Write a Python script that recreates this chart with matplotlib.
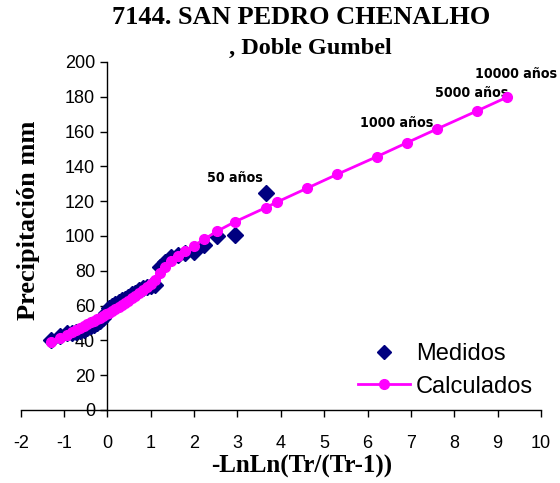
import matplotlib
matplotlib.use("Agg")
import matplotlib.pyplot as plt

# ---- data ----
title_line1 = "7144. SAN PEDRO CHENALHO"
title_line2 = ", Doble Gumbel"
x_label = "-LnLn(Tr/(Tr-1))"
y_label = "Precipitación mm"

medidos_x = [3.651, 2.944, 2.525, 2.224, 1.986, 1.789, 1.620, 1.472, 1.338, 1.216,
             1.104, 1.000, 0.903, 0.810, 0.723, 0.639, 0.558, 0.480, 0.404, 0.330,
             0.257, 0.186, 0.116, 0.046, -0.024, -0.094, -0.164, -0.236, -0.308, -0.383,
             -0.460, -0.541, -0.627, -0.720, -0.823, -0.942, -1.089, -1.298]
medidos_y = [124.5, 100.5, 100.0, 95.0, 91.0, 90.0, 89.0, 88.0, 85.0, 82.0,
             72.0, 71.0, 70.5, 70.0, 69.0, 67.5, 66.5, 65.0, 64.0, 63.0,
             62.0, 61.0, 60.0, 58.5, 56.0, 53.0, 51.0, 50.0, 49.0, 48.0,
             47.0, 46.0, 45.5, 45.0, 44.5, 44.0, 42.5, 40.5]

calc_x = [-1.298, -1.089, -0.942, -0.823, -0.720, -0.627, -0.541, -0.460, -0.383, -0.308,
          -0.236, -0.164, -0.094, -0.024, 0.046, 0.116, 0.186, 0.257, 0.330, 0.404,
          0.480, 0.558, 0.639, 0.723, 0.810, 0.903, 1.000, 1.104, 1.216, 1.338,
          1.472, 1.620, 1.789, 1.986, 2.224, 2.525, 2.944, 3.651,
          3.902, 4.600, 5.296, 6.214, 6.907, 7.600, 8.517, 9.210]
calc_y = [39.0, 41.5, 43.3, 44.8, 46.0, 47.2, 48.3, 49.3, 50.3, 51.2,
          52.1, 53.0, 54.0, 55.0, 56.0, 57.0, 58.0, 59.2, 60.4, 61.6,
          62.9, 64.2, 65.6, 67.1, 68.7, 70.5, 72.5, 75.0, 78.5, 82.3,
          85.8, 88.5, 91.3, 94.3, 98.0, 102.7, 108.2, 116.3,
          119.4, 127.4, 135.4, 145.6, 153.6, 161.5, 171.8, 179.7]

period_labels = ["50 años", "1000 años", "5000 años", "10000 años"]
period_label_x = [2.93, 6.67, 8.40, 9.42]
period_label_y = [133.3, 164.9, 182.2, 193.1]

x_ticks = list(range(-2, 11))
y_ticks = list(range(0, 201, 20))

# ---- figure ----
W, H = 560, 483
fig = plt.figure(figsize=(W / 100, H / 100), dpi=100)
ax_l, ax_r, ax_t, ax_b = 20.7, 541.0, 62.0, 410.0
ax = fig.add_axes([ax_l / W, 1 - ax_b / H, (ax_r - ax_l) / W, (ax_b - ax_t) / H])
ax.set_xlim(-2, 10)
ax.set_ylim(0, 200)

navy = "#000080"
magenta = "#FF00FF"

ax.plot(medidos_x, medidos_y, linestyle="none", marker="D", markersize=8,
        color=navy, label="Medidos", zorder=3, clip_on=False)
ax.plot(calc_x, calc_y, color=magenta, linewidth=2, marker="o", markersize=7,
        label="Calculados", zorder=4, clip_on=False)

for s in ("top", "right"):
    ax.spines[s].set_visible(False)
ax.spines["left"].set_position(("data", 0))
ax.spines["left"].set_linewidth(1.0)
ax.spines["bottom"].set_linewidth(1.0)

tick_font = {"family": "Liberation Sans", "size": 13}
ax.set_xticks(x_ticks)
ax.set_yticks(y_ticks)
ax.set_xticklabels([str(v) for v in x_ticks], fontdict=tick_font)
ax.set_yticklabels([str(v) for v in y_ticks], fontdict=tick_font)
ax.tick_params(axis="x", direction="out", length=5, width=1, pad=13)
ax.tick_params(axis="y", direction="out", length=5, width=1, pad=4)

ax.set_xlabel(x_label, family="Liberation Serif", fontweight="bold", fontsize=18)
ax.xaxis.set_label_coords((302 - ax_l) / (ax_r - ax_l), -(466 - ax_b) / (ax_b - ax_t), transform=ax.transAxes)
ax.xaxis.label.set_va("center")
ax.set_ylabel(y_label, family="Liberation Serif", fontweight="bold", fontsize=19)
ax.yaxis.set_label_coords((29 - ax_l) / (ax_r - ax_l), (ax_b - 220) / (ax_b - ax_t), transform=ax.transAxes)
ax.yaxis.label.set_va("center")

fig.text(301 / W, 1 - 18 / H, title_line1, ha="center", va="center",
         family="Liberation Serif", fontweight="bold", fontsize=19)
fig.text(310 / W, 1 - 48 / H, title_line2, ha="center", va="center",
         family="Liberation Serif", fontweight="bold", fontsize=17.5)

for lab, lx, ly in zip(period_labels, period_label_x, period_label_y):
    ax.text(lx, ly, lab, ha="center", va="center", fontsize=10.2,
            family="DejaVu Sans", fontstretch="condensed", fontweight="bold")

leg = ax.legend(loc="upper left", bbox_to_anchor=(358 / W, 1 - 343 / H),
                bbox_transform=fig.transFigure, frameon=False,
                prop={"family": "Liberation Sans", "size": 17},
                handlelength=2.2, handletextpad=0.25, labelspacing=0.45,
                borderpad=0, borderaxespad=0)
for h in leg.legend_handles:
    h.set_markersize(7)

fig.savefig("out.png", dpi=100)
